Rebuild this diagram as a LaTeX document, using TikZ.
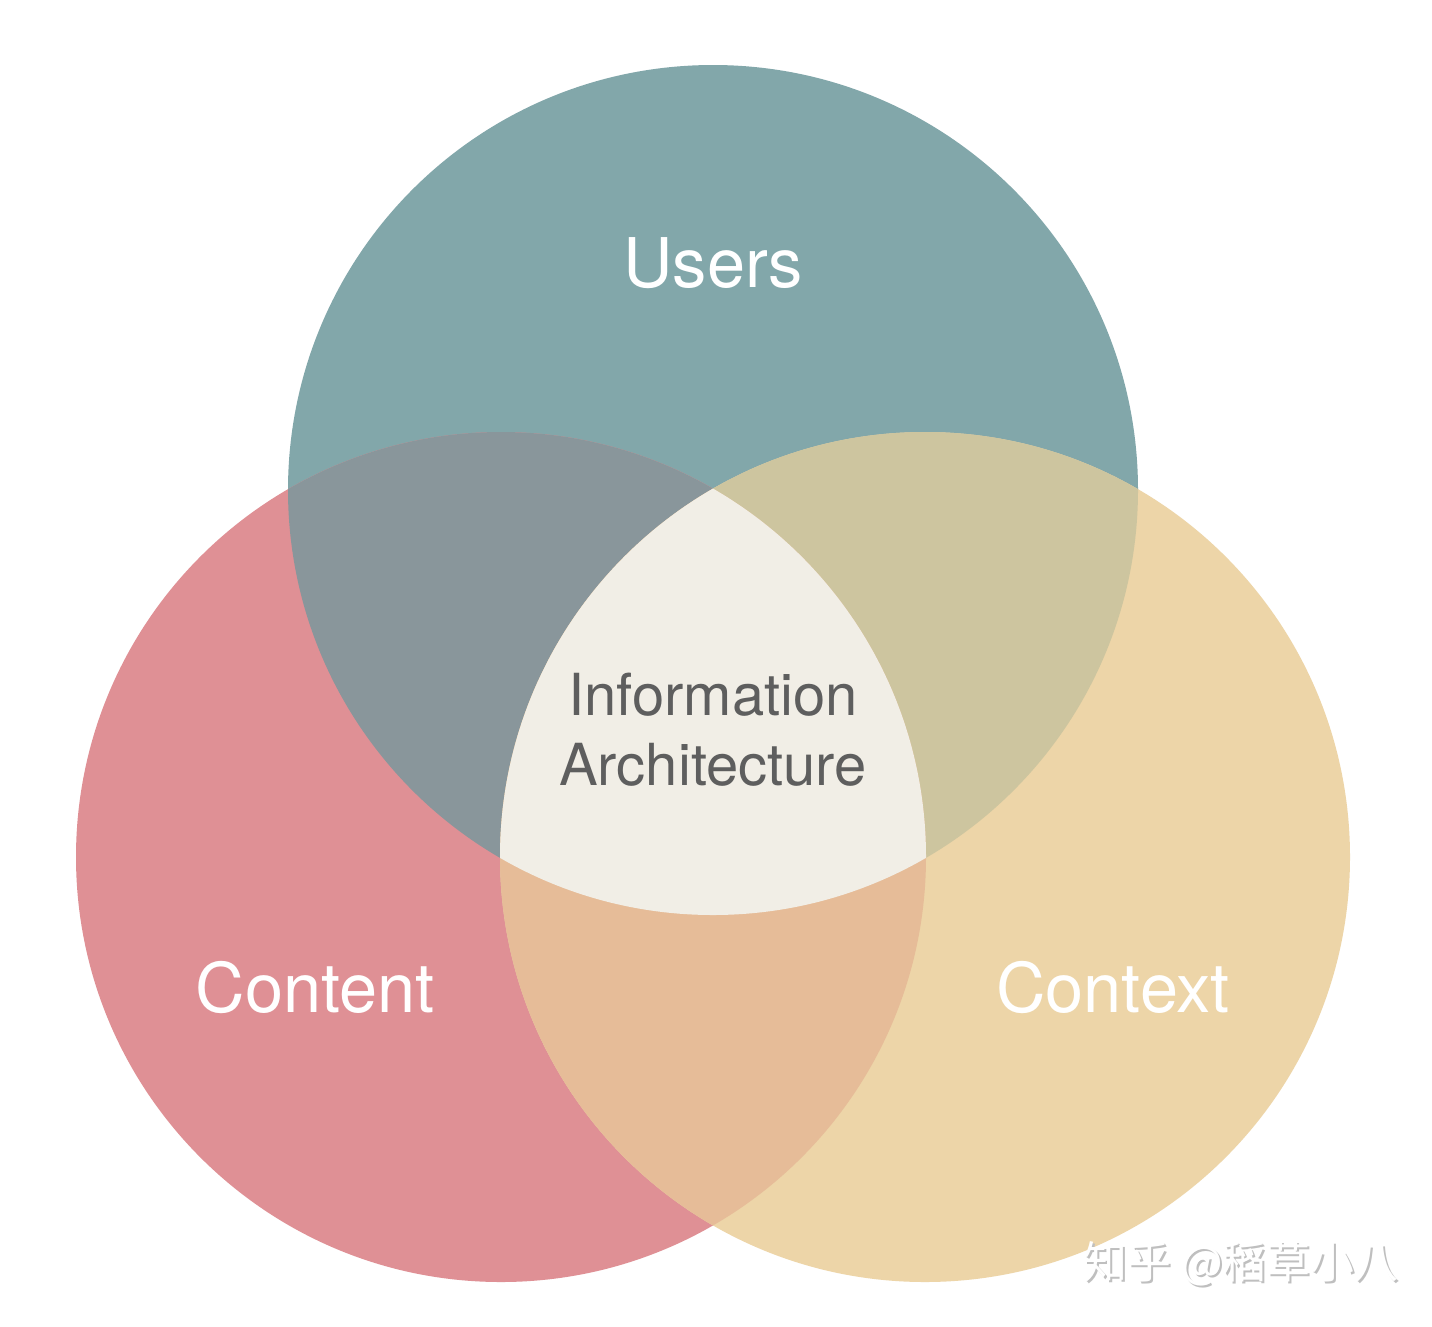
\documentclass[tikz,border=0pt]{standalone}
\usepackage{fontspec}
\setmainfont{TeX Gyre Heros}
\newfontfamily\cjk{Noto Sans CJK SC}
\definecolor{cU}{HTML}{82A7AA}
\definecolor{cC}{HTML}{DF9095}
\definecolor{cX}{HTML}{EDD5A8}
\definecolor{cUC}{HTML}{89969B}
\definecolor{cUX}{HTML}{CDC59F}
\definecolor{cCX}{HTML}{E6BC98}
\definecolor{cM}{HTML}{F1EEE6}
\definecolor{cT}{HTML}{5E5E5E}
\begin{document}
\begin{tikzpicture}[x=0.02cm,y=-0.02cm,
  lab/.style={text=white,font=\fontsize{39}{44}\selectfont},
  mid/.style={text=cT,font=\fontsize{33}{40}\selectfont,align=center},
  wm/.style={font=\cjk\fontsize{25}{28}\selectfont}]
\useasboundingbox[fill=white] (0,0) rectangle (1432,1326);
\def\U{(713,490) circle (425)}
\def\C{(501,857) circle (425)}
\def\X{(925,857) circle (425)}
\fill[cU] \U; \fill[cC] \C; \fill[cX] \X;
\begin{scope}\clip \U; \fill[cUC] \C; \fill[cUX] \X; \end{scope}
\begin{scope}\clip \C; \fill[cCX] \X; \end{scope}
\begin{scope}\clip \U; \clip \C; \fill[cM] \X; \end{scope}
\node[lab] (users) at (713,263) {Users};
\node[lab] (content) at (315,988) {Content};
\node[lab] (context) at (1113,988) {Context};
\node[mid] (ia) at (713,730) {Information\\Architecture};
\node[wm,text=black!25] (wms) at (1243,1266) {知乎 @稻草小八};
\node[wm,text=white] (wm) at (1241,1264) {知乎 @稻草小八};
\end{tikzpicture}
\end{document}
